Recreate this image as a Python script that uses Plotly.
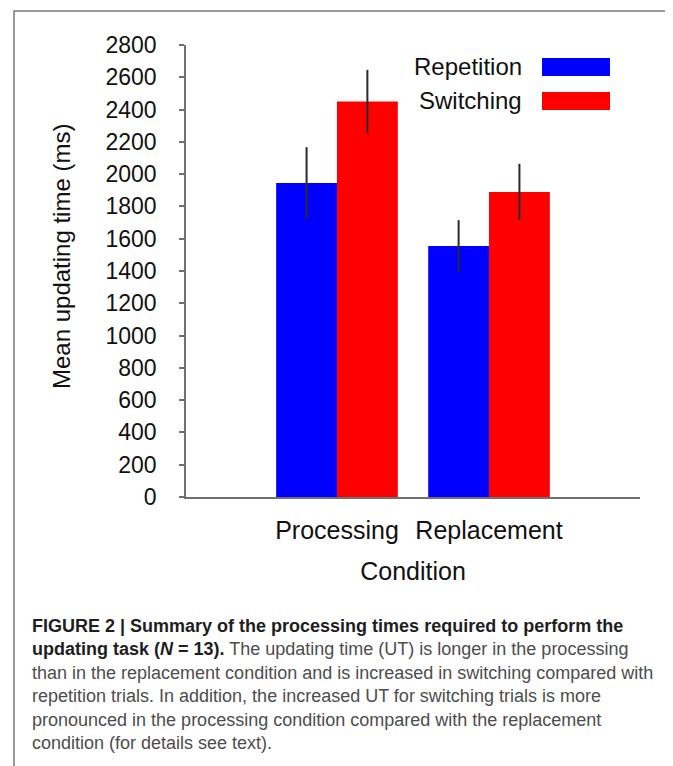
import plotly.graph_objects as go

# ---- data ----
categories = ["Processing", "Replacement"]
series_names = ["Repetition", "Switching"]
repetition_ms = [1945, 1555]
switching_ms = [2450, 1890]
repetition_err = [222, 160]
switching_err = [196, 174]
series_colors = ["#0000FF", "#FF0000"]
y_ticks = list(range(0, 2801, 200))

caption_lines = [
    "<b>FIGURE 2 | Summary of the processing times required to perform the</b>",
    "<b>updating task (<i>N</i> = 13).</b><span style='color:#4d4d4d'> The updating time (UT) is longer in the processing</span>",
    "<span style='color:#4d4d4d'>than in the replacement condition and is increased in switching compared with</span>",
    "<span style='color:#4d4d4d'>repetition trials. In addition, the increased UT for switching trials is more</span>",
    "<span style='color:#4d4d4d'>pronounced in the processing condition compared with the replacement</span>",
    "<span style='color:#4d4d4d'>condition (for details see text).</span>",
]

# ---- layout geometry (pixels, in reference-image coordinates) ----
PAGE_OFF = 8  # default body margin of the html page
FIG_W, FIG_H = 673 - PAGE_OFF, 766 - PAGE_OFF
L, R, T, B = 186, 640, 45, 497
W, H = R - L, B - T


def px_x(x):
    return (x - L) / W


def px_y(y):
    return (B - y) / H


FONT = "Liberation Sans, Arial, sans-serif"

fig = go.Figure()
for name, vals, errs, col in zip(series_names, [repetition_ms, switching_ms],
                                 [repetition_err, switching_err], series_colors):
    fig.add_trace(go.Bar(
        x=categories, y=vals, name=name,
        marker=dict(color=col, line=dict(width=0)),
        error_y=dict(type="data", array=errs, visible=True, width=0,
                     thickness=2, color="#2a2a2a"),
        showlegend=False,
    ))

# legend drawn as text with swatch to the right (as in the reference)
legend_rows = [(66, 58, 76), (100, 92, 110)]
for name, col, (ty, y0, y1) in zip(series_names, series_colors, legend_rows):
    fig.add_annotation(text=name, xref="paper", yref="paper",
                       x=px_x(524), y=px_y(ty), xanchor="right", yanchor="middle",
                       showarrow=False, font=dict(family=FONT, size=24, color="#111111"))
    fig.add_shape(type="rect", xref="paper", yref="paper",
                  x0=px_x(542), x1=px_x(610), y0=px_y(y1), y1=px_y(y0),
                  fillcolor=col, line=dict(width=0))

# outer figure frame
fig.add_shape(type="rect", xref="paper", yref="paper",
              x0=px_x(14), x1=px_x(669), y0=px_y(820), y1=px_y(11),
              fillcolor="rgba(0,0,0,0)", line=dict(color="#7a7a7a", width=1.5))

# y-axis title
fig.add_annotation(text="Mean updating time (ms)", xref="paper", yref="paper",
                   x=px_x(62), y=px_y(257), xanchor="center", yanchor="middle",
                   textangle=-90, showarrow=False,
                   font=dict(family=FONT, size=24, color="#111111"))

# caption
fig.add_annotation(text="<br>".join(caption_lines), xref="paper", yref="paper",
                   x=px_x(30), y=px_y(614), xanchor="left", yanchor="top",
                   align="left", showarrow=False,
                   font=dict(family=FONT, size=18, color="#1e1e1e"))

fig.update_layout(
    width=FIG_W, height=FIG_H,
    margin=dict(l=L - PAGE_OFF, r=673 - R, t=T - PAGE_OFF, b=766 - B, autoexpand=False),
    paper_bgcolor="white", plot_bgcolor="white",
    barmode="group", bargap=0.2, bargroupgap=0,
    font=dict(family=FONT, color="#111111"),
)
fig.update_xaxes(
    range=[-0.993, 1.993], showline=True, linecolor="#707070", linewidth=1.5,
    ticks="", showgrid=False, zeroline=False,
    tickfont=dict(size=25, family=FONT, color="#111111"), ticklabelstandoff=10,
    title=dict(text="Condition", font=dict(size=25, family=FONT, color="#111111"),
               standoff=20),
    automargin=False,
)
fig.update_yaxes(
    range=[0, 2800], tickvals=y_ticks, showline=True, linecolor="#707070", linewidth=1.5,
    ticks="outside", ticklen=5, tickcolor="#707070", tickwidth=1.5,
    showgrid=False, zeroline=False,
    tickfont=dict(size=23, family=FONT, color="#111111"), ticklabelstandoff=18,
    automargin=False,
)

fig.write_html("out.html")
